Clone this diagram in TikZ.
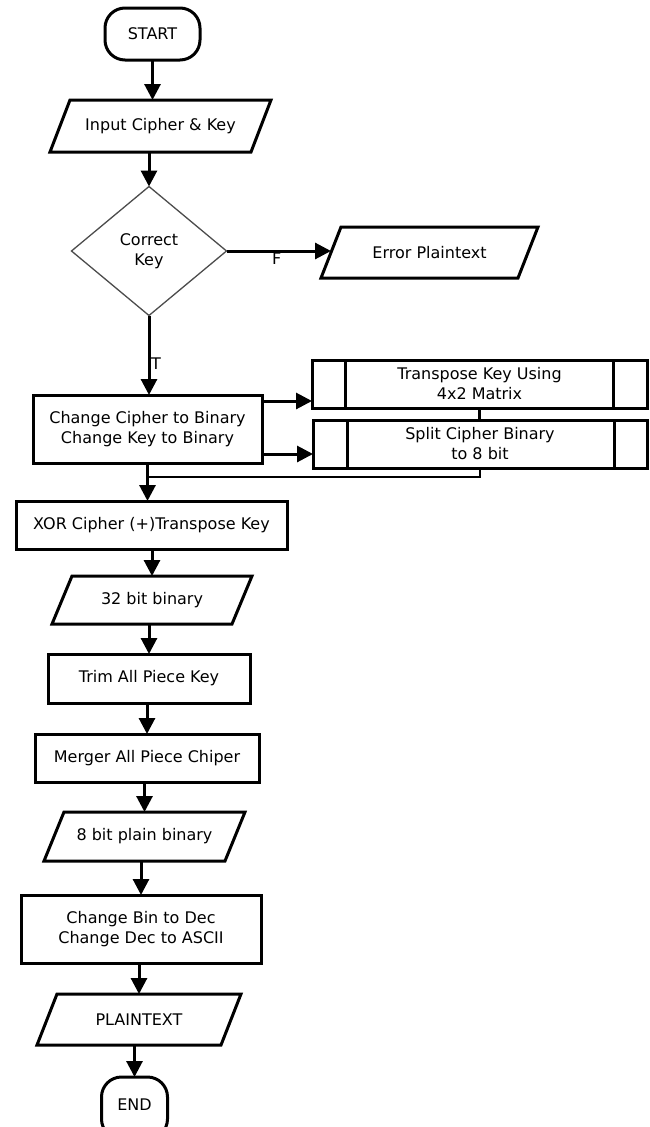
\documentclass[tikz,border=0pt]{standalone}
\usepackage{fontspec}
\setmainfont{DejaVu Sans}
\usetikzlibrary{shapes.geometric,arrows.meta,calc}
\newcommand\drawio[1]{\draw[ioline] ([xshift=10pt]#1.north west) -- ([xshift=10pt]#1.north east) -- ([xshift=-10pt]#1.south east) -- ([xshift=-10pt]#1.south west) -- cycle;}
\begin{document}
\begin{tikzpicture}[x=1pt,y=-1pt,
  every node/.style={font=\fontsize{16pt}{20pt}\selectfont, align=center, inner sep=0pt, outer sep=0pt},
  term/.style={draw, line width=3pt, rectangle, rounded corners=20pt},
  proc/.style={draw, line width=3pt, rectangle},
  io/.style={rectangle},
  ioline/.style={line width=3pt, line join=miter},
  pre/.style={draw, line width=3pt, rectangle},
  preline/.style={line width=3pt},
  dec/.style={draw=black!70, line width=1.3pt, diamond},
  arr/.style={line width=3pt, -{Triangle[width=16pt,length=16pt]}},
  link/.style={line width=2.6pt}
]
\fill[white] (0,0) rectangle (650,1127);
\useasboundingbox (0,0) rectangle (650,1127);

\node[term, minimum width=95, minimum height=52] (start) at (152.5,34) {START};
\node[io, minimum width=201, minimum height=52] (input) at (160.5,126) {Input Cipher \& Key};
\node[dec, minimum width=155, minimum height=129] (dia) at (149,251) {Correct\\Key};
\node[io, minimum width=197, minimum height=51] (err) at (429.5,252.5) {Error Plaintext};
\node[proc, minimum width=229, minimum height=68] (chg) at (147.5,429) {Change Cipher to Binary\\Change Key to Binary};
\node[pre, minimum width=335, minimum height=48] (tr) at (479.5,384) {Transpose Key Using\\4x2 Matrix};
\node[pre, minimum width=334, minimum height=48] (sp) at (480,444) {Split Cipher Binary\\to 8 bit};
\node[proc, minimum width=271, minimum height=48] (xor) at (151.5,525) {XOR Cipher (+)Transpose Key};
\node[io, minimum width=180, minimum height=48] (b32) at (152,600) {32 bit binary};
\node[proc, minimum width=202, minimum height=49] (trim) at (149,678.5) {Trim All Piece Key};
\node[proc, minimum width=224, minimum height=48] (merge) at (147,758) {Merger All Piece Chiper};
\node[io, minimum width=181, minimum height=49] (b8) at (144.5,836.5) {8 bit plain binary};
\node[proc, minimum width=240, minimum height=68] (chg2) at (141,929) {Change Bin to Dec\\Change Dec to ASCII};
\node[io, minimum width=184, minimum height=51] (plain) at (139,1019.5) {PLAINTEXT};
\node[term, minimum width=66, minimum height=62, text depth=6pt] (end) at (134.5,1108) {END};

% parallelogram outlines
\drawio{input}
\drawio{err}
\drawio{b32}
\drawio{b8}
\drawio{plain}

% predefined-process inner lines
\draw[preline] ([xshift=33pt]tr.north west) -- ([xshift=33pt]tr.south west);
\draw[preline] ([xshift=-34pt]tr.north east) -- ([xshift=-34pt]tr.south east);
\draw[preline] ([xshift=34pt]sp.north west) -- ([xshift=34pt]sp.south west);
\draw[preline] ([xshift=-33pt]sp.north east) -- ([xshift=-33pt]sp.south east);

% connectors
\draw[arr] (start.south) -- (start.south |- input.north);
\draw[arr] (dia.north |- input.south) -- (dia.north);
\draw[arr] (dia.east) -- node[below=2pt, pos=0.48]{F} (dia.east -| err.west);
\draw[arr] (dia.south) -- node[right=2pt, pos=0.6]{T} (dia.south |- chg.north);
\coordinate (c1) at ([yshift=-6pt]chg.north east);
\coordinate (c2) at ([yshift=9pt]chg.south east);
\draw[arr] (c1) -- (c1 -| tr.west);
\draw[arr] (c2) -- (c2 -| sp.west);
\draw[link] (tr.south) -- (tr.south |- sp.north);
\coordinate (k) at ([yshift=-9pt]sp.south);
\draw[link] (sp.south) -- (k) -- (k -| chg.south);
\draw[arr] (chg.south) -- (chg.south |- xor.north);
\draw[arr] (b32.north |- xor.south) -- (b32.north);
\draw[arr] (trim.north |- b32.south) -- (trim.north);
\draw[arr] (merge.north |- trim.south) -- (merge.north);
\draw[arr] (b8.north |- merge.south) -- (b8.north);
\draw[arr] (chg2.north |- b8.south) -- (chg2.north);
\draw[arr] (plain.north |- chg2.south) -- (plain.north);
\draw[arr] (end.north |- plain.south) -- (end.north);
\end{tikzpicture}
\end{document}
